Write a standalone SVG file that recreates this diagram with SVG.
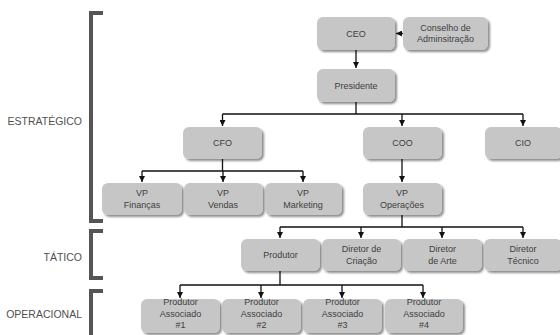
<svg xmlns="http://www.w3.org/2000/svg" width="560" height="335" viewBox="0 0 560 335">
  <style>
    .box { fill: #c6c6c6; rx: 6px; ry: 6px; filter: url(#shadow); }
    .t { font-family: "Liberation Sans", Arial, sans-serif; font-size: 9px; fill: #404040; text-anchor: middle; }
    .lvl { font-family: "Liberation Sans", Arial, sans-serif; font-size: 10.5px; fill: #505050; text-anchor: end; }
    .br { fill: none; stroke: #555; stroke-width: 4; }
    .ln { fill: none; stroke: #111; stroke-width: 1.3; }
    .arr { fill: none; stroke: #111; stroke-width: 1.3; marker-end: url(#ah); }
  </style>
  <defs>
    <filter id="shadow" x="-10%" y="-10%" width="130%" height="140%">
      <feGaussianBlur in="SourceAlpha" stdDeviation="1"/>
      <feOffset dx="1.5" dy="1.8" result="o"/>
      <feComponentTransfer><feFuncA type="linear" slope="0.45"/></feComponentTransfer>
      <feMerge><feMergeNode/><feMergeNode in="SourceGraphic"/></feMerge>
    </filter>
    <marker id="ah" viewBox="0 0 10 10" refX="10" refY="5" markerWidth="6" markerHeight="6" markerUnits="userSpaceOnUse" orient="auto">
      <path d="M0,0 L10,5 L0,10 z" fill="#111"/>
    </marker>
  </defs>

  <!-- level brackets and labels -->
  <g id="levels">
    <path class="br" d="M103,13 H91 V221 H103"/>
    <path class="br" d="M103,231 H91 V278 H103"/>
    <path class="br" d="M103,291 H91 V340"/>
    <text class="lvl" x="82" y="124.5">ESTRATÉGICO</text>
    <text class="lvl" x="82" y="260.5">TÁTICO</text>
    <text class="lvl" x="82" y="318">OPERACIONAL</text>
  </g>

  <!-- connectors -->
  <g id="connectors">
    <path class="arr" d="M403,33.5 H396"/>
    <path class="arr" d="M356,50 V68"/>
    <path class="ln" d="M356,102 V114 M222.5,114 H523"/>
    <path class="arr" d="M222.5,114 V126"/>
    <path class="arr" d="M402,114 V126"/>
    <path class="arr" d="M523,114 V126"/>
    <path class="ln" d="M222.5,159 V171 M142,171 H303"/>
    <path class="arr" d="M142,171 V182"/>
    <path class="arr" d="M223,171 V182"/>
    <path class="arr" d="M303,171 V182"/>
    <path class="arr" d="M402,159 V182"/>
    <path class="ln" d="M402,215 V227 M280,227 H523"/>
    <path class="arr" d="M280,227 V238"/>
    <path class="arr" d="M361,227 V238"/>
    <path class="arr" d="M442,227 V238"/>
    <path class="arr" d="M523,227 V238"/>
    <path class="ln" d="M280,271 V285 M180,285 H423"/>
    <path class="arr" d="M180,285 V298"/>
    <path class="arr" d="M261,285 V298"/>
    <path class="arr" d="M342,285 V298"/>
    <path class="arr" d="M423,285 V298"/>
  </g>

  <g id="ceo"><rect class="box" x="317" y="17" width="78" height="33"/><text class="t" x="356" y="36.5">CEO</text></g>
  <g id="conselho"><rect class="box" x="403" y="17" width="85" height="33"/><text class="t" x="445.5" y="30.5">Conselho de</text><text class="t" x="445.5" y="42">Adminsitração</text></g>
  <g id="presidente"><rect class="box" x="317" y="69" width="78" height="33"/><text class="t" x="356" y="88.5">Presidente</text></g>

  <g id="cfo"><rect class="box" x="183" y="127" width="79" height="32"/><text class="t" x="222.5" y="146">CFO</text></g>
  <g id="coo"><rect class="box" x="363" y="127" width="79" height="32"/><text class="t" x="402.5" y="146">COO</text></g>
  <g id="cio"><rect class="box" x="485" y="127" width="77" height="32"/><text class="t" x="523" y="146">CIO</text></g>

  <g id="vp-financas"><rect class="box" x="102" y="183" width="80" height="32"/><text class="t" x="142" y="196">VP</text><text class="t" x="142" y="207.5">Finanças</text></g>
  <g id="vp-vendas"><rect class="box" x="184" y="183" width="79" height="32"/><text class="t" x="223" y="196">VP</text><text class="t" x="223" y="207.5">Vendas</text></g>
  <g id="vp-marketing"><rect class="box" x="265" y="183" width="77" height="32"/><text class="t" x="303" y="196">VP</text><text class="t" x="303" y="207.5">Marketing</text></g>
  <g id="vp-operacoes"><rect class="box" x="363" y="183" width="79" height="32"/><text class="t" x="402" y="196">VP</text><text class="t" x="402" y="207.5">Operações</text></g>

  <g id="produtor"><rect class="box" x="241" y="239" width="79" height="32"/><text class="t" x="280.5" y="258">Produtor</text></g>
  <g id="diretor-criacao"><rect class="box" x="322" y="239" width="79" height="32"/><text class="t" x="361.5" y="252">Diretor de</text><text class="t" x="361.5" y="263.5">Criação</text></g>
  <g id="diretor-arte"><rect class="box" x="403" y="239" width="79" height="32"/><text class="t" x="442.5" y="252">Diretor</text><text class="t" x="442.5" y="263.5">de Arte</text></g>
  <g id="diretor-tecnico"><rect class="box" x="484" y="239" width="78" height="32"/><text class="t" x="523" y="252">Diretor</text><text class="t" x="523" y="263.5">Técnico</text></g>

  <g id="associado-1"><rect class="box" x="141" y="299" width="79" height="34"/><text class="t" x="180.5" y="305">Produtor</text><text class="t" x="180.5" y="316.5">Associado</text><text class="t" x="180.5" y="328">#1</text></g>
  <g id="associado-2"><rect class="box" x="222" y="299" width="79" height="34"/><text class="t" x="261.5" y="305">Produtor</text><text class="t" x="261.5" y="316.5">Associado</text><text class="t" x="261.5" y="328">#2</text></g>
  <g id="associado-3"><rect class="box" x="303" y="299" width="79" height="34"/><text class="t" x="342.5" y="305">Produtor</text><text class="t" x="342.5" y="316.5">Associado</text><text class="t" x="342.5" y="328">#3</text></g>
  <g id="associado-4"><rect class="box" x="385" y="299" width="78" height="34"/><text class="t" x="424" y="305">Produtor</text><text class="t" x="424" y="316.5">Associado</text><text class="t" x="424" y="328">#4</text></g>
</svg>
